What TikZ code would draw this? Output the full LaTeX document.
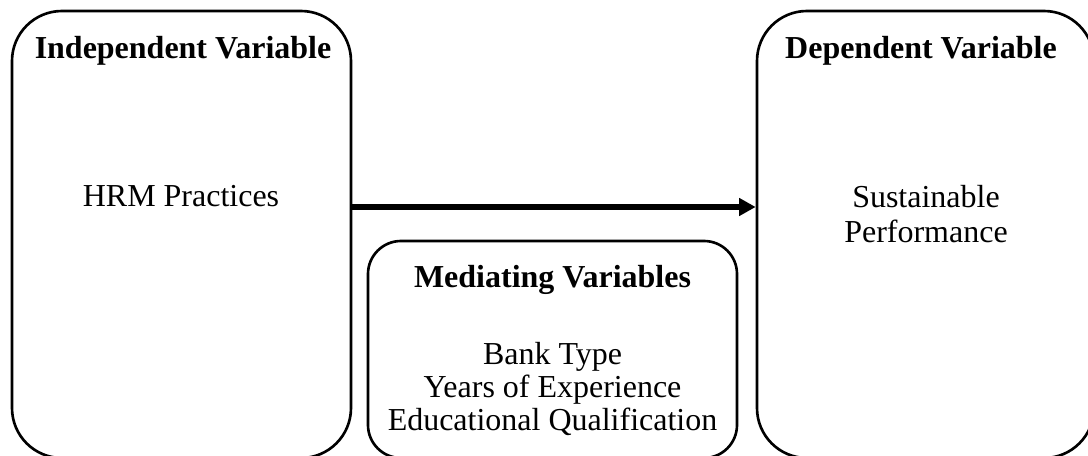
\documentclass[tikz,border=0pt]{standalone}
\usepackage{fontspec}
\setmainfont{Liberation Serif}
\usetikzlibrary{arrows.meta}
\tikzset{bx/.append style={draw, line width=1.5pt, inner sep=0pt}}
\tikzset{tx/.append style={inner sep=0pt, anchor=base, font=\fontsize{18.2pt}{20.8pt}\selectfont}}
\tikzset{hd/.append style={tx, font=\fontsize{18.2pt}{20.8pt}\selectfont\bfseries}}

\begin{document}
\begin{tikzpicture}
                \useasboundingbox (0,0) rectangle (21.76,9.12);
                % boxes
                \node[bx, rounded corners=1cm, minimum width=6.78cm, minimum height=8.94cm] (indep) at (3.63,4.43) {};
                \node[bx, rounded corners=1cm, minimum width=6.74cm, minimum height=8.94cm] (dep) at (18.51,4.43) {};
                \node[bx, rounded corners=0.66cm, minimum width=7.38cm, minimum height=4.34cm] (med) at (11.05,2.13) {};
                % texts
                \node[hd] (indeptitle) at (3.66,7.94) {Independent Variable};
                \node[tx] (hrm) at (3.62,4.98) {HRM Practices};
                \node[hd] (deptitle) at (18.42,7.94) {Dependent Variable};
                \node[tx] (sust) at (18.52,4.96) {Sustainable};
                \node[tx] (perf) at (18.52,4.26) {Performance};
                \node[hd] (medtitle) at (11.05,3.37) {Mediating Variables};
                \node[tx] (bank) at (11.05,1.82) {Bank Type};
                \node[tx] (years) at (11.05,1.17) {Years of Experience};
                \node[tx] (edu) at (11.05,0.51) {Educational Qualification};
                % arrow
                \draw[line width=2.85pt, -{Triangle[length=0.33cm,width=0.34cm]}] ([yshift=0.55cm]indep.east) -- ([yshift=0.55cm]dep.west);
            \end{tikzpicture}
\end{document}
